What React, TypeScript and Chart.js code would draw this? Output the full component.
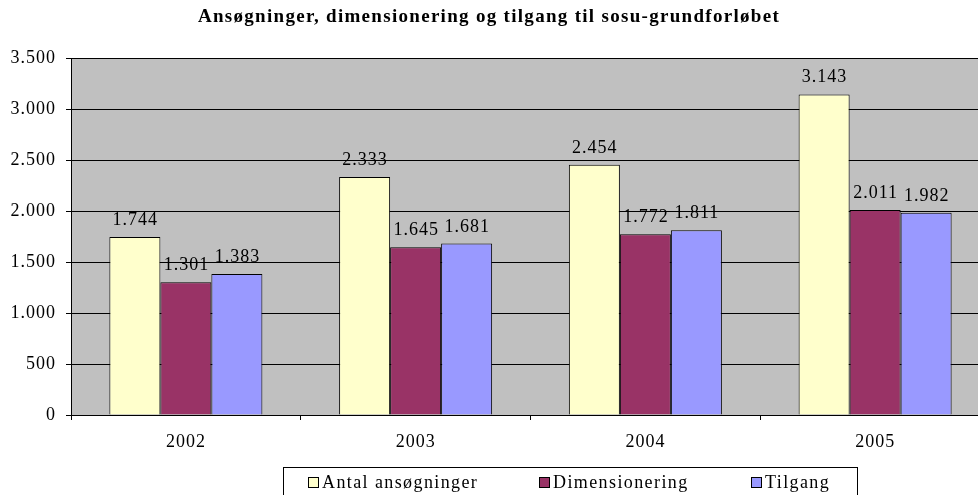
import React, { useEffect, useRef } from "react";
import { Chart, registerables } from "chart.js";

Chart.register(...registerables);

const TITLE = "Ansøgninger, dimensionering og tilgang til sosu-grundforløbet";
const categories = ["2002", "2003", "2004", "2005"];
const seriesNames = ["Antal ansøgninger", "Dimensionering", "Tilgang"];
const antal = [1744, 2333, 2454, 3143];
const dimensionering = [1301, 1645, 1772, 2011];
const tilgang = [1383, 1681, 1811, 1982];
const seriesColors = ["#FFFFCC", "#993366", "#9999FF"];
const yMin = 0;
const yMax = 3500;
const yStep = 500;

const FONT = "'Liberation Serif', 'Times New Roman', serif";
const LS = "1px";

const fmt = (v: number) =>
  Math.round(v)
    .toString()
    .replace(/\B(?=(\d{3})+(?!\d))/g, ".");

// legend item positions (x of swatch)
const legendSwatchX = [308, 539, 751];

const decor = {
  id: "decor",
  beforeDraw(chart: any) {
    const { ctx, chartArea: a } = chart;
    ctx.save();
    ctx.fillStyle = "#C0C0C0";
    ctx.fillRect(a.left, a.top, a.right - a.left, a.bottom - a.top);
    ctx.restore();
    (ctx as any).letterSpacing = LS;
  },
  afterDatasetsDraw(chart: any) {
    const { ctx } = chart;
    ctx.save();
    (ctx as any).letterSpacing = LS;
    ctx.font = `18px ${FONT}`;
    ctx.fillStyle = "#000";
    ctx.textAlign = "center";
    ctx.textBaseline = "alphabetic";
    chart.data.datasets.forEach((ds: any, di: number) => {
      const meta = chart.getDatasetMeta(di);
      meta.data.forEach((bar: any, i: number) => {
        ctx.fillText(fmt(ds.data[i]), bar.x + 0.5, bar.y - 12);
      });
    });
    ctx.restore();
  },
  afterDraw(chart: any) {
    const { ctx } = chart;
    ctx.save();
    // title
    (ctx as any).letterSpacing = "1.3px";
    ctx.font = `bold 19px ${FONT}`;
    ctx.fillStyle = "#000";
    ctx.textAlign = "center";
    ctx.textBaseline = "alphabetic";
    ctx.fillText(TITLE, 489, 22);
    // legend
    (ctx as any).letterSpacing = "1.4px";
    ctx.strokeStyle = "#000";
    ctx.lineWidth = 1;
    ctx.fillStyle = "#FFFFFF";
    ctx.fillRect(283.5, 467.5, 857 - 283, 40);
    ctx.strokeRect(283.5, 467.5, 857 - 283, 40);
    ctx.font = `18px ${FONT}`;
    ctx.textAlign = "left";
    seriesNames.forEach((name, i) => {
      const x = legendSwatchX[i];
      ctx.fillStyle = seriesColors[i];
      ctx.fillRect(x + 0.5, 477.5, 10, 10);
      ctx.strokeRect(x + 0.5, 477.5, 10, 10);
      ctx.fillStyle = "#000";
      ctx.fillText(name, x + 14, 488);
    });
    ctx.restore();
    (ctx as any).letterSpacing = "0px";
  },
};

export default function App() {
  const ref = useRef<HTMLCanvasElement | null>(null);

  useEffect(() => {
    if (!ref.current) return;
    const chart = new Chart(ref.current, {
      type: "bar",
      data: {
        labels: categories,
        datasets: [
          { label: seriesNames[0], data: antal, backgroundColor: seriesColors[0] },
          { label: seriesNames[1], data: dimensionering, backgroundColor: seriesColors[1] },
          { label: seriesNames[2], data: tilgang, backgroundColor: seriesColors[2] },
        ].map((d) => ({
          ...d,
          borderColor: "#000",
          borderWidth: 1,
          categoryPercentage: 0.666,
          barPercentage: 1,
        })),
      },
      options: {
        animation: false,
        responsive: false,
        devicePixelRatio: 1,
        layout: { padding: { left: 0, right: 10, top: 58, bottom: 40 } },
        plugins: {
          legend: { display: false },
          title: { display: false },
          tooltip: { enabled: false },
        },
        scales: {
          x: {
            ticks: { color: "#000", font: { family: FONT, size: 18 }, padding: 11 },
            grid: {
              offset: true,
              drawOnChartArea: false,
              color: "#000",
              tickLength: 5,
            },
            border: { color: "#000", width: 1 },
            afterFit: (s: any) => {
              s.height = 40;
            },
          },
          y: {
            min: yMin,
            max: yMax,
            ticks: {
              stepSize: yStep,
              color: "#000",
              font: { family: FONT, size: 18 },
              padding: 10,
              callback: (v: any) => fmt(Number(v)),
            },
            grid: { color: "#000", lineWidth: 1, tickLength: 5 },
            border: { color: "#000", width: 1 },
            afterFit: (s: any) => {
              s.width = 71;
            },
          },
        },
      } as any,
      plugins: [decor],
    });
    return () => chart.destroy();
  }, []);

  return (
    <div style={{ width: 978, height: 495, overflow: "hidden", background: "#fff" }}>
      <style>{`html,body{margin:0;padding:0;overflow:hidden;background:#fff}`}</style>
      <canvas ref={ref} width={1000} height={495} style={{ display: "block", width: 1000, height: 495 }} />
    </div>
  );
}
